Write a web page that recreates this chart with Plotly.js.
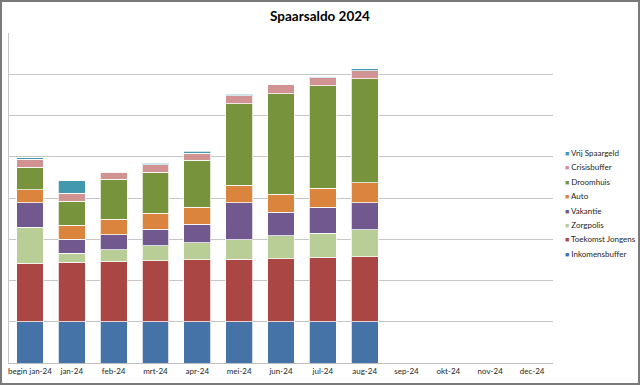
<!DOCTYPE html>
<html>
<head>
<meta charset="utf-8">
<script src="https://cdn.plot.ly/plotly-3.0.1.min.js"></script>
<style>
html,body{margin:0;padding:0;background:#fff;}
#wrap{width:640px;height:385px;box-sizing:border-box;border:2px solid #7a7a7a;overflow:hidden;}
#chart{width:636px;height:381px;}
</style>
</head>
<body>
<div id="wrap"><div id="chart"></div></div>
<script>
const categories = ["begin jan-24","jan-24","feb-24","mrt-24","apr-24","mei-24","jun-24","jul-24","aug-24","sep-24","okt-24","nov-24","dec-24"];

const inkomensbuffer  = [1.00, 1.00, 1.00, 1.00, 1.00, 1.00, 1.00, 1.00, 1.00, null, null, null, null];
const toekomstJongens = [1.42, 1.44, 1.46, 1.48, 1.50, 1.52, 1.53, 1.56, 1.58, null, null, null, null];
const zorgpolis       = [0.87, 0.22, 0.29, 0.36, 0.41, 0.47, 0.55, 0.59, 0.65, null, null, null, null];
const vakantie        = [0.59, 0.34, 0.36, 0.40, 0.45, 0.90, 0.58, 0.62, 0.66, null, null, null, null];
const auto            = [0.32, 0.34, 0.38, 0.39, 0.41, 0.42, 0.43, 0.47, 0.48, null, null, null, null];
const droomhuis       = [0.54, 0.58, 0.96, 0.99, 1.14, 1.98, 2.44, 2.48, 2.52, null, null, null, null];
const crisisbuffer    = [0.20, 0.20, 0.18, 0.19, 0.18, 0.19, 0.21, 0.20, 0.19, null, null, null, null];
const vrijSpaargeld   = [0.03, 0.30, 0.00, 0.03, 0.04, 0.04, 0.00, 0.02, 0.05, null, null, null, null];

const seriesNames  = ["Inkomensbuffer","Toekomst Jongens","Zorgpolis","Vakantie","Auto","Droomhuis","Crisisbuffer","Vrij Spaargeld"];
const seriesValues = [inkomensbuffer, toekomstJongens, zorgpolis, vakantie, auto, droomhuis, crisisbuffer, vrijSpaargeld];
const seriesColors = ["#4572A7","#AA4643","#B9CD96","#71588F","#DB843D","#77933C","#D19392","#4198AF"];

const FONT = "Lato, 'Open Sans', 'Liberation Sans', sans-serif";

const traces = seriesNames.map((name, i) => ({
  type: "bar",
  name: name,
  x: categories,
  y: seriesValues[i],
  marker: {color: seriesColors[i], line: {color: "rgba(255,255,255,0.75)", width: 1}},
  hoverinfo: "x+y+name",
  showlegend: false
}));

// plot area geometry (div pixels) used to place the legend text
const M = {l: 7, r: 85, t: 31, b: 20};
const W = 636, H = 381;
const plotH = H - M.t - M.b;
const legendTop = 151, legendStep = 14.4, legendX = 561;

const legendAnn = seriesNames.slice().reverse().map((name, k) => {
  const color = seriesColors[seriesNames.length - 1 - k];
  const yPix = legendTop + k * legendStep;
  return {
    xref: "paper", yref: "paper",
    x: (legendX - M.l) / (W - M.l - M.r),
    y: (H - M.b - yPix) / plotH,
    xanchor: "left", yanchor: "middle",
    showarrow: false,
    align: "left",
    text: '<span style="color:' + color + ';font-size:7px">\u25A0</span> ' + name,
    font: {family: FONT, size: 8, color: "#262626"}
  };
});

const layout = {
  width: W, height: H,
  paper_bgcolor: "#ffffff", plot_bgcolor: "#ffffff",
  barmode: "stack",
  bargap: 0.36,
  margin: {l: M.l, r: M.r, t: M.t, b: M.b, pad: 0},
  font: {family: FONT, size: 8, color: "#262626"},
  title: {text: "<b>Spaarsaldo 2024</b>", x: 0.5, xanchor: "center", xref: "container",
          y: 0.975, yanchor: "top",
          font: {family: FONT, size: 13.5, color: "#000000"}},
  xaxis: {
    type: "category", categoryorder: "array", categoryarray: categories,
    range: [-0.5, 12.5],
    showline: true, linecolor: "#bfbfbf", linewidth: 1,
    showgrid: false, ticks: "", tickfont: {family: FONT, size: 8, color: "#262626"},
    fixedrange: true
  },
  yaxis: {
    range: [0, 8], dtick: 1, tick0: 0,
    showticklabels: false, ticks: "",
    showgrid: true, gridcolor: "#c6c6c6", gridwidth: 1,
    showline: true, linecolor: "#c6c6c6", linewidth: 1,
    zeroline: false, fixedrange: true
  },
  annotations: legendAnn,
  showlegend: false
};

Plotly.newPlot("chart", traces, layout, {displayModeBar: false, staticPlot: true});
</script>
</body>
</html>
